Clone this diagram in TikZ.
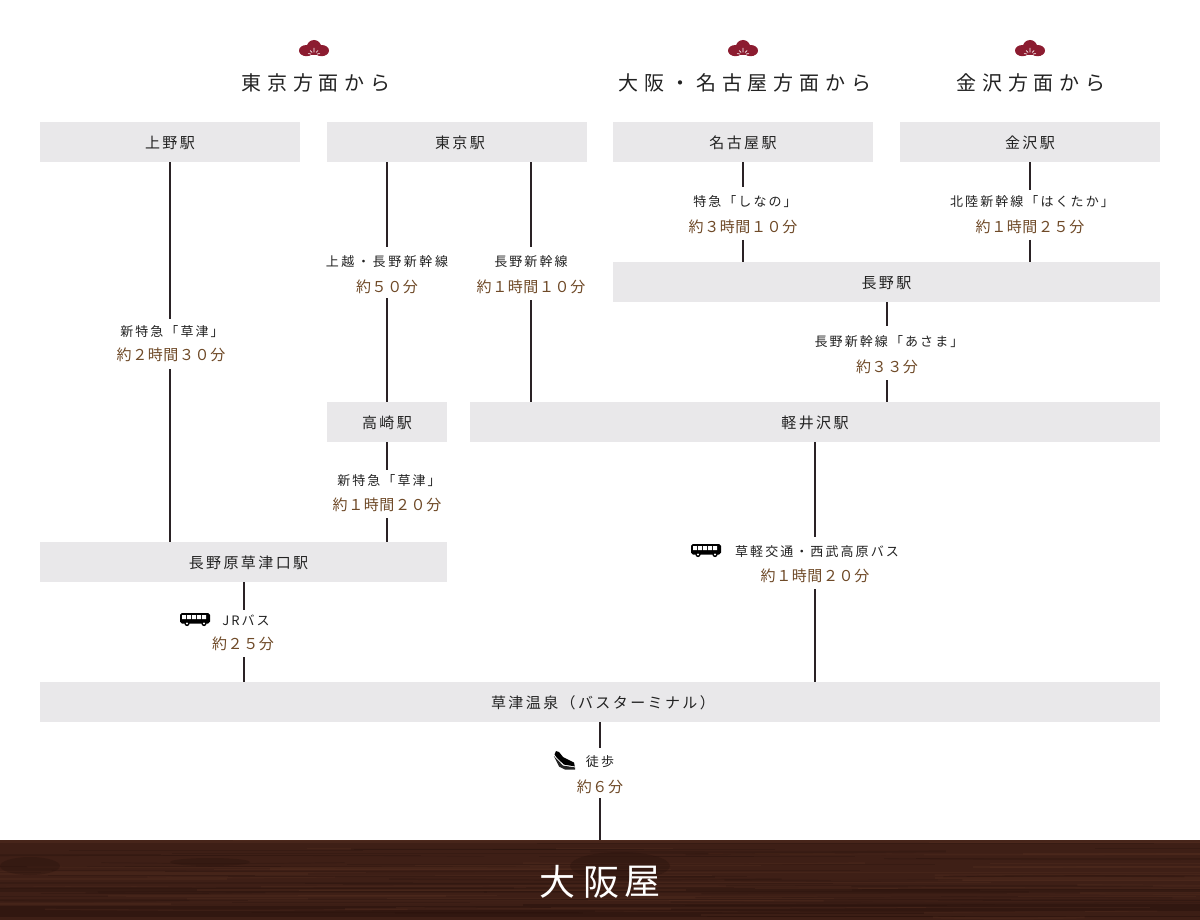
\documentclass[tikz,border=0pt]{standalone}
\usepackage{fontspec}
\newfontfamily\jphead[LetterSpace=29]{Noto Sans CJK JP}
\newfontfamily\jpbox[LetterSpace=16]{Noto Sans CJK JP}
\newfontfamily\jpsmall[LetterSpace=16]{Noto Sans CJK JP}
\newfontfamily\jpsmallw[LetterSpace=20]{Noto Sans CJK JP}
\newfontfamily\jptime[LetterSpace=4,RawFeature={+fwid}]{Noto Sans CJK JP}
\newfontfamily\jplogo{Noto Sans CJK JP}
\definecolor{boxgray}{HTML}{E9E8EA}
\definecolor{inkc}{HTML}{222222}
\definecolor{linec}{HTML}{2A2225}
\definecolor{timec}{HTML}{6F4A28}
\definecolor{pinec}{HTML}{8C1C30}
\definecolor{woodbase}{HTML}{3E1F16}
\definecolor{woodlight}{HTML}{5A3222}
\definecolor{wooddark}{HTML}{27110C}
\tikzset{
 x=1pt,y=-1pt,
 stationbox/.style={fill=boxgray,draw=none,inner sep=0pt,text=inkc,minimum height=40pt,text height=13.5pt,text depth=0pt,font=\jpbox\fontsize{15}{15}\selectfont},
 headlabel/.style={inner sep=0pt,text=inkc,yshift=-1pt,font=\jphead\fontsize{20}{20}\selectfont},
 smalllabel/.style={inner sep=0pt,text=inkc,yshift=-.7pt,font=\jpsmall\fontsize{13}{13}\selectfont},
 timelabel/.style={inner sep=0pt,text=timec,yshift=-.7pt,font=\jptime\fontsize{15}{15}\selectfont},
 logolabel/.style={inner sep=0pt,text=white,font=\jplogo\fontsize{120}{120}\selectfont,scale=.3},
 conn/.style={draw=linec,line width=2pt},
}
\newcommand{\pinemark}[2]{%
 \begin{scope}[shift={(#1,#2)}]
  \fill[pinec] (-7.6,2.6) ellipse [x radius=7.4,y radius=5.6];
  \fill[pinec] (7.6,2.6) ellipse [x radius=7.4,y radius=5.6];
  \fill[pinec] (0,-0.8) circle [radius=7.2];
  \fill[pinec] (-5,1) rectangle (5,7);
  \draw[white,line width=.7pt] (0,4.5)--(0,0) (-2,4.5)--(-4,2.5) (2,4.5)--(4,2.5) (-3,6)--(-6,5.6) (3,6)--(6,5.6);
 \end{scope}}
\newcommand{\busmark}[2]{%
 \begin{scope}[shift={(#1,#2)}]
  \fill[black,rounded corners=1.8pt] (0,0) rectangle (30,10.5);
  \fill[white] (2,2) rectangle (6,6) (7,2) rectangle (11,6) (12,2) rectangle (16,6) (17,2) rectangle (21,6) (22,2) rectangle (26,6);
  \fill[black] (7,10.5) circle [radius=2.6] (24,10.5) circle [radius=2.6];
  \fill[white] (7,10.5) circle [radius=1.1] (24,10.5) circle [radius=1.1];
 \end{scope}}
\begin{document}
\begin{tikzpicture}
\useasboundingbox (0,0) rectangle (1200,920);
\fill[white] (0,0) rectangle (1200,920);

% wood band
\begin{scope}
 \clip (0,840) rectangle (1200,920);
 \fill[woodbase] (0,840) rectangle (1200,920);
 \fill[woodlight,opacity=.35] (0,840) rectangle (1200,843);
 \fill[wooddark,opacity=.35] (0,888) rectangle (1200,892);
 \fill[wooddark,opacity=.55] (0,904) rectangle (1200,917);
 \pgfmathsetseed{4217}
 \foreach \i in {1,...,110}{
   \pgfmathsetmacro{\yy}{840+rnd*80}
   \pgfmathsetmacro{\xa}{-100+rnd*1200}
   \pgfmathsetmacro{\ll}{120+rnd*500}
   \pgfmathsetmacro{\dy}{-1.5+rnd*3}
   \pgfmathsetmacro{\ww}{.5+rnd*1.5}
   \pgfmathsetmacro{\pick}{rnd}
   \ifdim\pick pt<.5pt
     \draw[woodlight,opacity=.28,line width=\ww pt] (\xa,\yy) .. controls (\xa+\ll*.5,\yy+\dy) .. (\xa+\ll,\yy);
   \else
     \draw[wooddark,opacity=.28,line width=\ww pt] (\xa,\yy) .. controls (\xa+\ll*.5,\yy+\dy) .. (\xa+\ll,\yy);
   \fi
 }
 \fill[wooddark,opacity=.35] (210,862) ellipse [x radius=40,y radius=4];
 \fill[wooddark,opacity=.35] (620,866) ellipse [x radius=50,y radius=14];
 \fill[wooddark,opacity=.35] (30,866) ellipse [x radius=30,y radius=9];
\end{scope}

% headers
\pinemark{314}{48}
\pinemark{743}{48}
\pinemark{1030}{48}
\node[headlabel] (hTokyo) at (316,82) {東京方面から};
\node[headlabel] (hOsaka) at (745,82) {大阪・名古屋方面から};
\node[headlabel] (hKanazawa) at (1031,82) {金沢方面から};

% stations
\node[stationbox,minimum width=260pt] (ueno) at (170,142) {上野駅};
\node[stationbox,minimum width=260pt] (tokyo) at (457,142) {\hspace*{6pt}東京駅};
\node[stationbox,minimum width=260pt] (nagoya) at (743,142) {名古屋駅};
\node[stationbox,minimum width=260pt] (kanazawa) at (1030,142) {金沢駅};
\node[stationbox,minimum width=547pt] (nagano) at (886.5,282) {長野駅};
\node[stationbox,minimum width=120pt] (takasaki) at (387,422) {高崎駅};
\node[stationbox,minimum width=690pt] (karuizawa) at (815,422) {軽井沢駅};
\node[stationbox,minimum width=407pt] (naganohara) at (243.5,562) {\hspace*{10pt}長野原草津口駅};
\node[stationbox,minimum width=1120pt] (onsen) at (600,702) {\hspace*{6pt}草津温泉（バスターミナル）};

% labels
\node[smalllabel] (l1) at (172,331) {新特急「草津」};
\node[timelabel] (t1) at (171,354) {約2時間30分};
\node[smalllabel,font=\jpsmallw\fontsize{13}{13}\selectfont] (l2) at (387,261) {上越・長野新幹線};
\node[timelabel] (t2) at (387,286) {約50分};
\node[smalllabel] (l3) at (531,261) {長野新幹線};
\node[timelabel] (t3) at (531,286) {約1時間10分};
\node[smalllabel] (l4) at (745,201) {特急「しなの」};
\node[timelabel] (t4) at (743,226) {約3時間10分};
\node[smalllabel] (l5) at (1032,201) {北陸新幹線「はくたか」};
\node[timelabel] (t5) at (1030,226) {約1時間25分};
\node[smalllabel] (l6) at (889,341) {長野新幹線「あさま」};
\node[timelabel] (t6) at (887,366) {約33分};
\node[smalllabel] (l7) at (389,480) {新特急「草津」};
\node[timelabel] (t7) at (387,504) {約1時間20分};
\node[smalllabel] (l8) at (817,551) {草軽交通・西武高原バス};
\node[timelabel] (t8) at (815,575) {約1時間20分};
\node[smalllabel] (l9) at (246,620) {JRバス};
\node[timelabel] (t9) at (243,643) {約25分};
\node[smalllabel] (l10) at (600,761) {徒歩};
\node[timelabel] (t10) at (600,786) {約6分};

% icons
\busmark{691}{544}
\busmark{180}{613}
\fill[black] (556,751) -- (559,752) -- (563,757) -- (569,760) -- (574,762.5) -- (574.8,766.4) -- (564,764.6) -- (557,758) -- (554.5,754.5) -- cycle;
\fill[black!85] (553.8,756) -- (563,765.6) -- (575,767.4) -- (575,769.6) -- (565,769.6) -- (559,766.5) -- cycle;

% connector break points
\coordinate (a1) at (170,319); \coordinate (b1) at (170,369);
\coordinate (a2) at (387,247); \coordinate (b2) at (387,298);
\coordinate (a3) at (531,247); \coordinate (b3) at (531,300);
\coordinate (a4) at (743,187); \coordinate (b4) at (743,240);
\coordinate (a5) at (1030,190); \coordinate (b5) at (1030,240);
\coordinate (a6) at (887,326); \coordinate (b6) at (887,380);
\coordinate (a7) at (387,470); \coordinate (b7) at (387,518);
\coordinate (a8) at (815,537); \coordinate (b8) at (815,589);
\coordinate (a9) at (244,610); \coordinate (b9) at (244,657);
\coordinate (a10) at (600,748); \coordinate (b10) at (600,798);
\coordinate (wood) at (600,840);

\draw[conn] (ueno.south -| a1) -- (a1);
\draw[conn] (b1) -- (b1 |- naganohara.north);
\draw[conn] (tokyo.south -| a2) -- (a2);
\draw[conn] (b2) -- (b2 |- takasaki.north);
\draw[conn] (tokyo.south -| a3) -- (a3);
\draw[conn] (b3) -- (b3 |- karuizawa.north);
\draw[conn] (nagoya.south -| a4) -- (a4);
\draw[conn] (b4) -- (b4 |- nagano.north);
\draw[conn] (kanazawa.south -| a5) -- (a5);
\draw[conn] (b5) -- (b5 |- nagano.north);
\draw[conn] (nagano.south -| a6) -- (a6);
\draw[conn] (b6) -- (b6 |- karuizawa.north);
\draw[conn] (takasaki.south -| a7) -- (a7);
\draw[conn] (b7) -- (b7 |- naganohara.north);
\draw[conn] (karuizawa.south -| a8) -- (a8);
\draw[conn] (b8) -- (b8 |- onsen.north);
\draw[conn] (naganohara.south -| a9) -- (a9);
\draw[conn] (b9) -- (b9 |- onsen.north);
\draw[conn] (onsen.south -| a10) -- (a10);
\draw[conn] (b10) -- (wood);

% logo
\node[logolabel] (logo1) at (557,882) {大};
\node[logolabel] (logo2) at (601,883) {阪};
\node[logolabel] (logo3) at (642,882) {屋};
\end{tikzpicture}
\end{document}
